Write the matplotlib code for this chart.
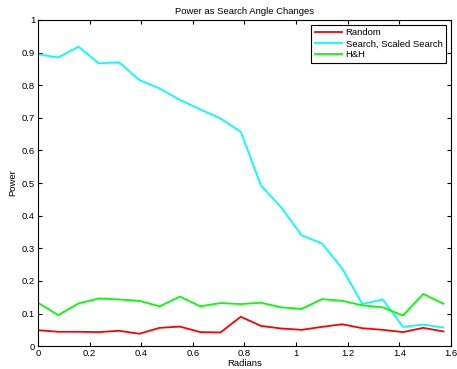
import matplotlib
matplotlib.use('Agg')
import matplotlib.pyplot as plt

plt.rcParams['font.family'] = ['Liberation Sans', 'DejaVu Sans']
plt.rcParams['font.size'] = 6.8

## Angle samples (radians) and power for each method
radians = [0.0, 0.0785, 0.1571, 0.2356, 0.3142, 0.3927, 0.4712, 0.5498,
           0.6283, 0.7069, 0.7854, 0.8639, 0.9425, 1.0210, 1.0996, 1.1781,
           1.2566, 1.3352, 1.4137, 1.4923, 1.5708]
random_power = [0.049, 0.044, 0.044, 0.043, 0.047, 0.038, 0.056, 0.060,
                0.043, 0.042, 0.090, 0.062, 0.054, 0.050, 0.059, 0.067,
                0.055, 0.050, 0.043, 0.056, 0.045]
search_power = [0.895, 0.885, 0.918, 0.867, 0.870, 0.816, 0.790, 0.755,
                0.726, 0.698, 0.657, 0.492, 0.425, 0.340, 0.315, 0.238,
                0.129, 0.143, 0.059, 0.066, 0.057]
hh_power = [0.133, 0.095, 0.131, 0.146, 0.143, 0.139, 0.122, 0.152,
            0.122, 0.132, 0.129, 0.133, 0.119, 0.114, 0.144, 0.139,
            0.125, 0.119, 0.094, 0.160, 0.130]

fig = plt.figure(figsize=(4.57, 3.69), dpi=100)
ax = fig.add_axes([0.083, 0.062, 0.904, 0.884])

ax.plot(radians, random_power, color=(1, 0, 0), lw=1.3, label='Random')
ax.plot(radians, search_power, color=(0, 1, 1), lw=1.3, label='Search, Scaled Search')
ax.plot(radians, hh_power, color=(0, 1, 0), lw=1.3, label='H&H')

ax.set_xlim(0, 1.6)
ax.set_ylim(0, 1)
ax.set_xticks([0, 0.2, 0.4, 0.6, 0.8, 1, 1.2, 1.4, 1.6])
ax.set_xticklabels(['0', '0.2', '0.4', '0.6', '0.8', '1', '1.2', '1.4', '1.6'])
ax.set_yticks([0, 0.1, 0.2, 0.3, 0.4, 0.5, 0.6, 0.7, 0.8, 0.9, 1])
ax.set_yticklabels(['0', '0.1', '0.2', '0.3', '0.4', '0.5', '0.6', '0.7', '0.8', '0.9', '1'])
ax.tick_params(direction='in', top=True, right=True, length=3, width=0.8, pad=2)
for s in ax.spines.values():
    s.set_linewidth(0.8)

ax.set_title('Power as Search Angle Changes', fontsize=6.8, pad=4)
ax.set_xlabel('Radians', labelpad=1)
ax.set_ylabel('Power', labelpad=3)

leg = ax.legend(loc='upper right', fancybox=False, edgecolor='black',
                framealpha=1, borderpad=0.4, labelspacing=0.2,
                handlelength=2.9, handletextpad=0.35, borderaxespad=0.5)
leg.get_frame().set_linewidth(0.8)

fig.savefig('out.png', dpi=100)
